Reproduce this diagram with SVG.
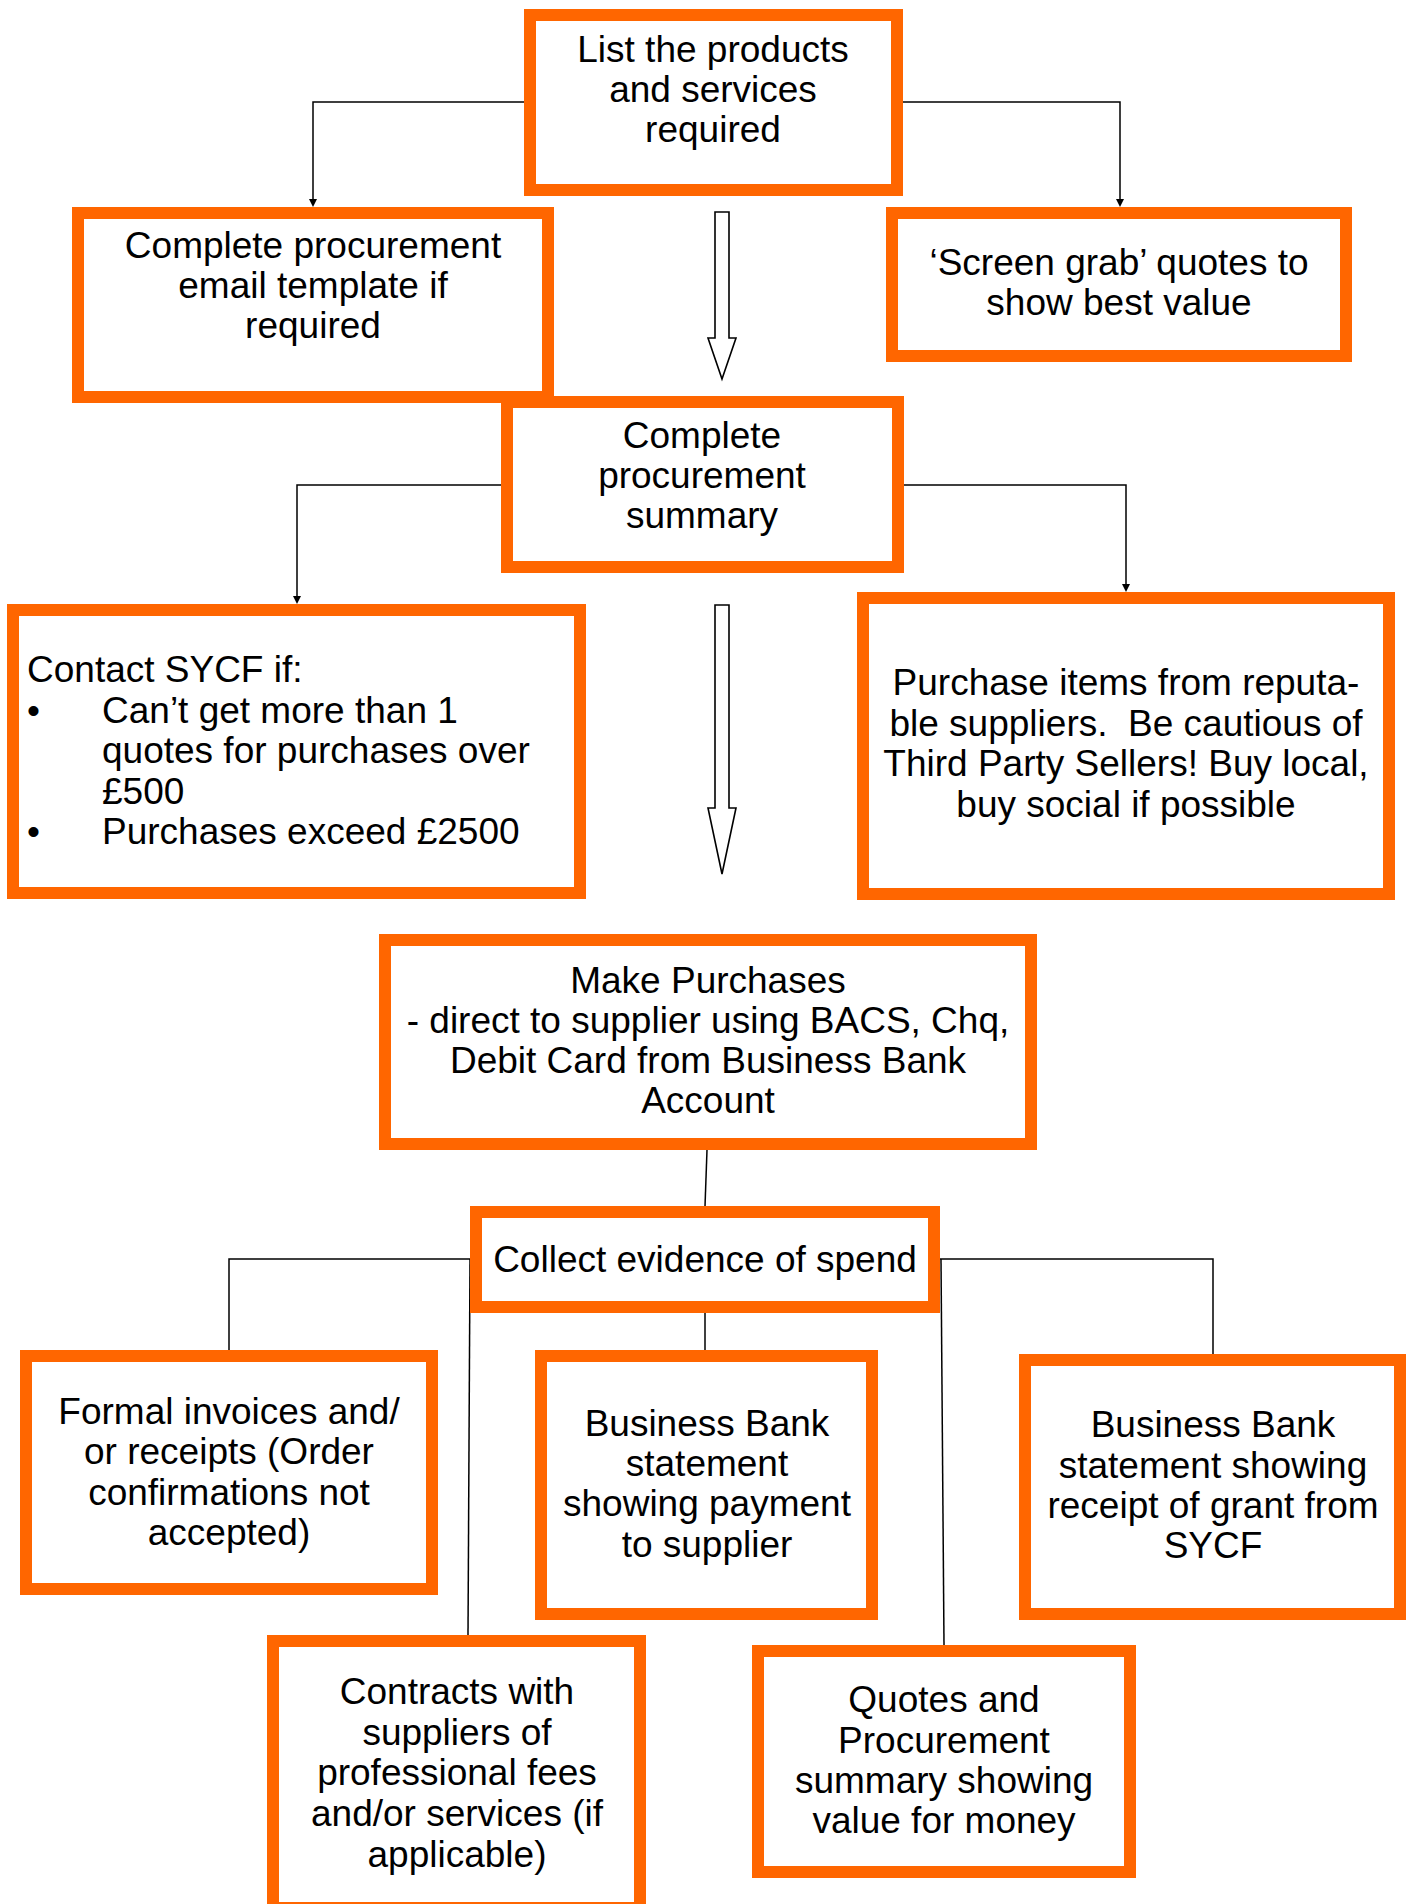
<svg xmlns="http://www.w3.org/2000/svg" width="1407" height="1904" viewBox="0 0 1407 1904">
<style>
.box{fill:#fff;stroke:#FF6600;stroke-width:12}
.t{font-family:"Liberation Sans",Arial,sans-serif;font-size:37px;fill:#000;text-anchor:middle}
.tl{font-family:"Liberation Sans",Arial,sans-serif;font-size:37px;fill:#000}
.c{fill:none;stroke:#000;stroke-width:1.5}
.ha{fill:#fff;stroke:#000;stroke-width:1.6}
.ah{fill:#000}
</style>
<rect width="1407" height="1904" fill="#fff"/>
<g id="connectors">
<path class="c" d="M524,102 H313 V199"/>
<path class="ah" d="M309,199 L317,199 L313,207 Z"/>
<path class="c" d="M903,102 H1120 V199"/>
<path class="ah" d="M1116,199 L1124,199 L1120,207 Z"/>
<path class="c" d="M501,485 H297 V596"/>
<path class="ah" d="M293,596 L301,596 L297,604 Z"/>
<path class="c" d="M904,485 H1126 V584"/>
<path class="ah" d="M1122,584 L1130,584 L1126,592 Z"/>
<polygon class="ha" points="715,212 729,212 729,338 736,338 722,379 708,338 715,338"/>
<polygon class="ha" points="715,605 729,605 729,808 736,808 722,874 708,808 715,808"/>
<path class="c" d="M707,1150 L705,1206"/>
<path class="c" d="M470,1259 H229 V1350"/>
<path class="c" d="M470,1259 L468,1635"/>
<path class="c" d="M705,1313 V1350"/>
<path class="c" d="M940,1259 H1213 V1354"/>
<path class="c" d="M941,1259 L944,1645"/>
</g>
<g id="n1">
<rect class="box" x="530" y="15" width="367" height="175"/>
<text class="t" x="713" y="62">List the products</text>
<text class="t" x="713" y="102">and services</text>
<text class="t" x="713" y="142">required</text>
</g>
<g id="n2">
<rect class="box" x="78" y="213" width="470" height="184"/>
<text class="t" x="313" y="258">Complete procurement</text>
<text class="t" x="313" y="298">email template if</text>
<text class="t" x="313" y="338">required</text>
</g>
<g id="n3">
<rect class="box" x="892" y="213" width="454" height="143"/>
<text class="t" x="1119" y="275">‘Screen grab’ quotes to</text>
<text class="t" x="1119" y="315">show best value</text>
</g>
<g id="n4">
<rect class="box" x="507" y="402" width="391" height="165"/>
<text class="t" x="702" y="448">Complete</text>
<text class="t" x="702" y="488">procurement</text>
<text class="t" x="702" y="528">summary</text>
</g>
<g id="n5">
<rect class="box" x="13" y="610" width="567" height="283"/>
<text class="tl" x="27" y="682">Contact SYCF if:</text>
<text class="tl" x="27" y="722.5">•</text>
<text class="tl" x="102" y="722.5">Can’t get more than 1</text>
<text class="tl" x="102" y="763">quotes for purchases over</text>
<text class="tl" x="102" y="803.5">£500</text>
<text class="tl" x="27" y="844">•</text>
<text class="tl" x="102" y="844">Purchases exceed £2500</text>
</g>
<g id="n6">
<rect class="box" x="863" y="598" width="526" height="296"/>
<text class="t" x="1126" y="695">Purchase items from reputa-</text>
<text class="t" x="1126" y="735.5" xml:space="preserve">ble suppliers.  Be cautious of</text>
<text class="t" x="1126" y="776">Third Party Sellers! Buy local,</text>
<text class="t" x="1126" y="816.5">buy social if possible</text>
</g>
<g id="n7">
<rect class="box" x="385" y="940" width="646" height="204"/>
<text class="t" x="708" y="993">Make Purchases</text>
<text class="t" x="708" y="1033">- direct to supplier using BACS, Chq,</text>
<text class="t" x="708" y="1073">Debit Card from Business Bank</text>
<text class="t" x="708" y="1113">Account</text>
</g>
<g id="n8">
<rect class="box" x="476" y="1212" width="458" height="95"/>
<text class="t" x="705" y="1272">Collect evidence of spend</text>
</g>
<g id="n9">
<rect class="box" x="26" y="1356" width="406" height="233"/>
<text class="t" x="229" y="1423.5">Formal invoices and/</text>
<text class="t" x="229" y="1464">or receipts (Order</text>
<text class="t" x="229" y="1504.5">confirmations not</text>
<text class="t" x="229" y="1545">accepted)</text>
</g>
<g id="n10">
<rect class="box" x="541" y="1356" width="331" height="258"/>
<text class="t" x="707" y="1436">Business Bank</text>
<text class="t" x="707" y="1476">statement</text>
<text class="t" x="707" y="1516">showing payment</text>
<text class="t" x="707" y="1557">to supplier</text>
</g>
<g id="n11">
<rect class="box" x="1025" y="1360" width="375" height="254"/>
<text class="t" x="1213" y="1437">Business Bank</text>
<text class="t" x="1213" y="1478">statement showing</text>
<text class="t" x="1213" y="1518">receipt of grant from</text>
<text class="t" x="1213" y="1558">SYCF</text>
</g>
<g id="n12">
<rect class="box" x="273" y="1641" width="367" height="267"/>
<text class="t" x="457" y="1704">Contracts with</text>
<text class="t" x="457" y="1745">suppliers of</text>
<text class="t" x="457" y="1785">professional fees</text>
<text class="t" x="457" y="1826">and/or services (if</text>
<text class="t" x="457" y="1867">applicable)</text>
</g>
<g id="n13">
<rect class="box" x="758" y="1651" width="372" height="221"/>
<text class="t" x="944" y="1712">Quotes and</text>
<text class="t" x="944" y="1753">Procurement</text>
<text class="t" x="944" y="1793">summary showing</text>
<text class="t" x="944" y="1833">value for money</text>
</g>
</svg>
